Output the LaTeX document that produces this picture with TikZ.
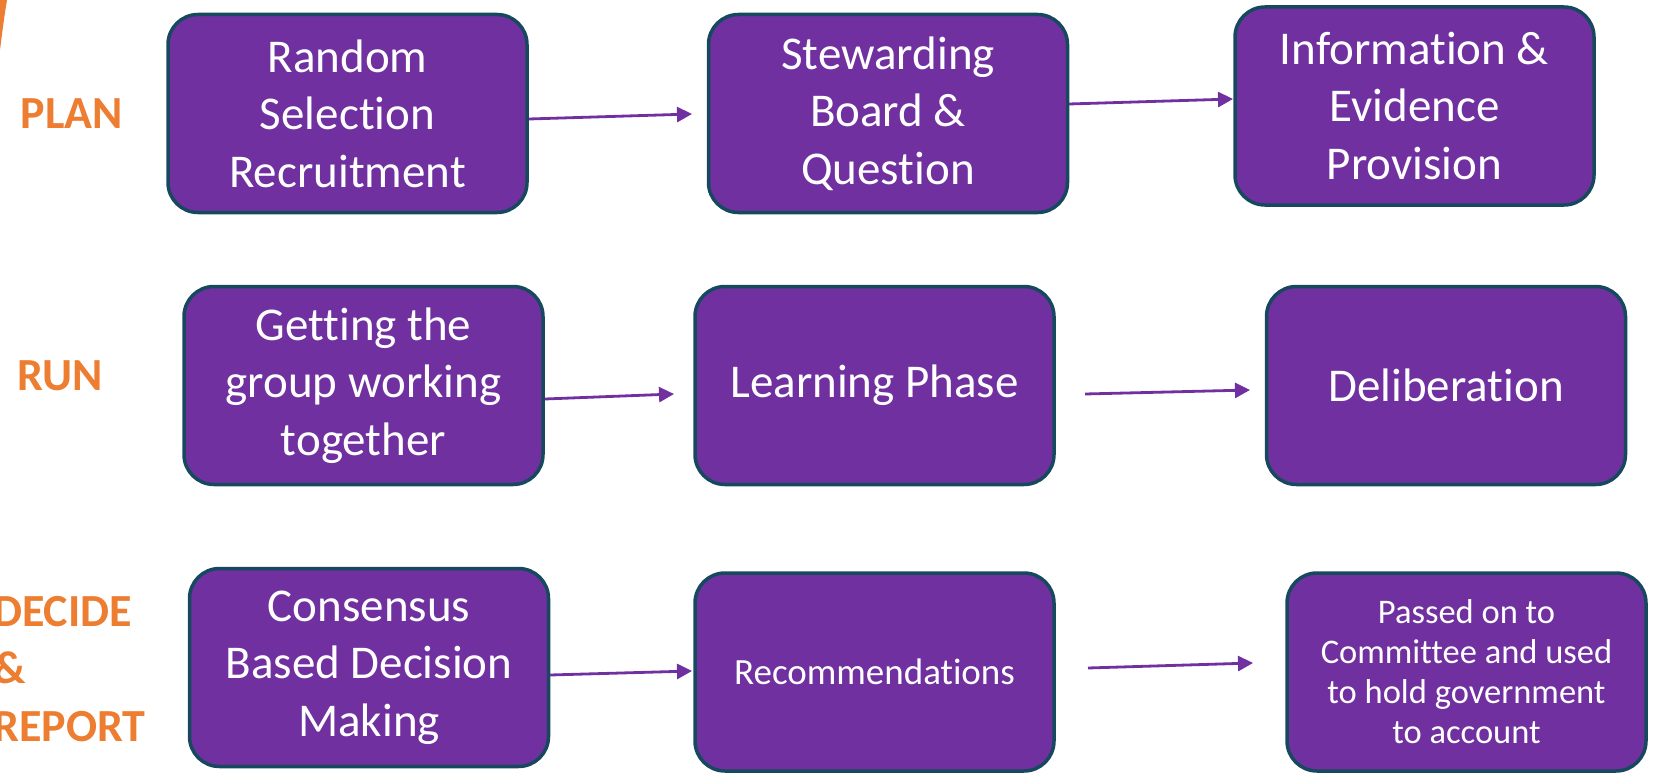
\documentclass[tikz,border=0pt]{standalone}
\usepackage{fontspec}
\setmainfont{Carlito}[RawFeature={-liga;-clig;-calt;-dlig}]
\usetikzlibrary{arrows.meta}
\definecolor{boxfill}{HTML}{7030A0}
\definecolor{boxline}{HTML}{17495E}
\definecolor{arrowc}{HTML}{7030A0}
\definecolor{labelc}{HTML}{ED7D31}
\tikzset{
  stagebox/.style={draw=boxline, line width=3.5pt, fill=boxfill, rounded corners=30pt,
    minimum width=359pt, minimum height=198pt, text=white, align=center, inner sep=0pt},
  bigtext/.style={font=\fontsize{47}{57.5}\selectfont},
  midtext/.style={font=\fontsize{37}{45}\selectfont},
  smalltext/.style={font=\fontsize{34.5}{40}\selectfont},
  phaselabel/.style={text=labelc, font=\fontsize{46}{57.5}\selectfont\bfseries, inner sep=0pt},
  flow/.style={draw=arrowc, line width=2.8pt, -{Triangle[length=15pt,width=15pt]}}
}
\begin{document}
\begin{tikzpicture}[x=1pt,y=-1pt]
\useasboundingbox (0,0) rectangle (1660,773);
\fill[labelc] (0,0) -- (7,0) .. controls (4,18) and (2,34) .. (0,50) -- cycle;

% phase labels
\node[phaselabel, anchor=center] (plan) at (72,114) {PLAN};
\node[phaselabel, anchor=center] (run) at (60,376) {RUN};
\node[phaselabel, anchor=west, align=left] (decide) at (-7,669) {DECIDE\\\&\\REPORT};

% row 1
\node[stagebox, bigtext] (b1) at (347.5,113.5) {Random\\Selection\\Recruitment};
\node[stagebox, bigtext] (b2) at (888,113.5) {Stewarding\\Board \&\\Question};
\node[stagebox, bigtext] (b3) at (1414.5,106) {Information \&\\Evidence\\Provision};
% row 2
\node[stagebox, bigtext] (b4) at (363.5,385.5) {Getting the\\group working\\together};
\node[stagebox, bigtext] (b5) at (874.5,385.5) {Learning Phase};
\node[stagebox, bigtext] (b6) at (1446,385.5) {Deliberation};
% row 3
\node[stagebox, bigtext] (b7) at (369,667.5) {Consensus\\Based Decision\\Making};
\node[stagebox, midtext] (b8) at (874.5,672) {Recommendations};
\node[stagebox, smalltext] (b9) at (1466.5,672) {Passed on to\\Committee and used\\to hold government\\to account};

% arrow end points
\coordinate (a1s) at (529,119);  \coordinate (a1e) at (692,114);
\coordinate (a2s) at (1069,104); \coordinate (a2e) at (1233,99);
\coordinate (a3s) at (545,399);  \coordinate (a3e) at (674,394);
\coordinate (a4s) at (1085,394); \coordinate (a4e) at (1250,390);
\coordinate (a5s) at (550,675);  \coordinate (a5e) at (692,671);
\coordinate (a6s) at (1088,668); \coordinate (a6e) at (1253,663);

\draw[flow] (a1s) -- (a1e);
\draw[flow] (a2s) -- (a2e);
\draw[flow] (a3s) -- (a3e);
\draw[flow] (a4s) -- (a4e);
\draw[flow] (a5s) -- (a5e);
\draw[flow] (a6s) -- (a6e);
\end{tikzpicture}
\end{document}
